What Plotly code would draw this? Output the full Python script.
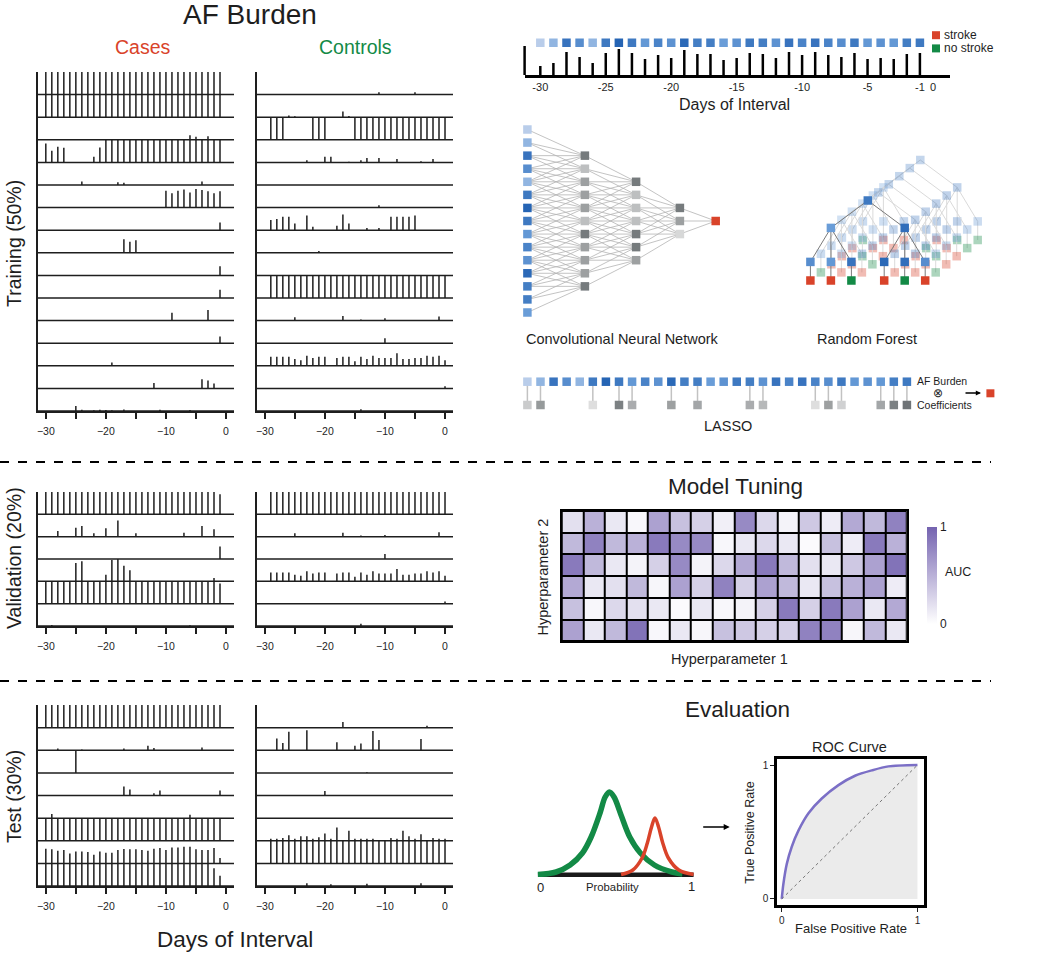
import plotly.graph_objects as go

W, H = 1050, 954
FONT = "Liberation Sans, Arial, Helvetica, sans-serif"
INK = "#1e1e1e"
RED = "#d9432a"
GREEN = "#138a46"

# ---------------- data ----------------
# AF burden per day, one list per patient (top row first)
case_days = list(range(-30, 0))
control_days = list(range(-29, 1))

train_cases = [
    [1, 1, 1, 1, 1, 1, 1, 1, 1, 1, 1, 1, 1, 1, 1, 1, 1, 1, 1, 1, 1, 1, 1, 1, 1, 1, 1, 1, 1, 1],
    [1, 1, 1, 1, 1, 1, 1, 1, 1, 1, 1, 1, 1, 1, 1, 1, 1, 1, 1, 1, 1, 1, 1, 1, 1, 1, 1, 1, 1, 1],
    [0, 0, 0, 0, 0, 0, 0, 0, 0, 0, 0, 0, 0, 0, 0, 0, 0, 0, 0, 0, 0, 0, 0, 0, 0, 0, 0, 0, 0, 0],
    [.84, .52, .69, .65, 0, 0, 0, 0, .25, .66, 1, 1, 1, 1, 1, 1, 1, 1, 1, 1, 1, 1, 1, 1, 1.2, 1.13, 1, 1.16, 1, 1],
    [0, 0, 0, 0, 0, 0, .15, 0, 0, 0, 0, 0, .12, .1, 0, 0, 0, 0, 0, 0, 0, 0, 0, 0, 0, 0, .15, 0, 0, 0],
    [0, 0, 0, 0, 0, 0, 0, 0, 0, 0, 0, 0, 0, 0, 0, 0, 0, 0, 0, 0, .75, .63, .75, .8, .67, .82, .78, .72, .63, .72],
    [0, 0, 0, 0, 0, 0, 0, 0, 0, 0, 0, 0, 0, 0, 0, 0, 0, 0, 0, 0, 0, 0, 0, 0, 0, 0, 0, 0, 0, .34],
    [0, 0, 0, 0, 0, 0, 0, 0, 0, 0, 0, 0, 0, .6, .49, .56, 0, 0, 0, 0, 0, 0, 0, 0, 0, 0, 0, 0, 0, 0],
    [0, 0, 0, 0, 0, 0, 0, 0, 0, 0, 0, 0, 0, 0, 0, 0, 0, 0, 0, 0, 0, 0, 0, 0, 0, 0, 0, 0, 0, .4],
    [0, 0, 0, 0, 0, 0, 0, 0, 0, 0, 0, 0, 0, 0, 0, 0, 0, 0, 0, 0, 0, 0, 0, 0, 0, 0, 0, 0, 0, .37],
    [0, 0, 0, 0, 0, 0, 0, 0, 0, 0, 0, 0, 0, 0, 0, 0, 0, 0, 0, 0, 0, .35, 0, 0, 0, 0, 0, .47, 0, 0],
    [0, 0, 0, 0, 0, 0, 0, 0, 0, 0, 0, 0, 0, 0, 0, 0, 0, 0, 0, 0, 0, 0, 0, 0, 0, 0, 0, 0, 0, .3],
    [0, 0, 0, 0, 0, 0, 0, 0, 0, 0, 0, .15, 0, 0, 0, 0, 0, 0, 0, 0, 0, 0, 0, 0, 0, 0, 0, 0, 0, 0],
    [0, 0, 0, 0, 0, 0, 0, 0, 0, 0, 0, 0, 0, 0, 0, 0, 0, 0, .24, 0, 0, 0, 0, 0, 0, 0, .41, .35, .22, 0],
    [0, 0, 0, 0, 0, .22, .05, 0, .03, .06, .04, .03, 0, .07, 0, 0, 0, 0, 0, .05, 0, 0, 0, 0, .04, 0, 0, 0, 0, 0],
]

train_controls = [
    [0, 0, 0, 0, 0, 0, 0, 0, 0, 0, 0, 0, 0, 0, 0, 0, 0, 0, .1, 0, 0, 0, 0, 0, .1, 0, 0, 0, 0, 0],
    [0, 0, 0, .08, .04, 0, 0, 0, 0, 0, 0, 0, .25, .05, 0, 0, 0, 0, 0, 0, 0, 0, 0, 0, 0, 0, 0, 0, 0, 0],
    [1, 1, 1, 0, 0, 0, 0, 1, 1, 1, 0, 0, 0, 0, 1, 1, 1, 1, 1, 1, 1, 1, 1, 1, 1, 1, 1, 1, 1, 1],
    [0, 0, 0, 0, 0, 0, .1, 0, 0, .25, .25, 0, 0, .03, 0, .1, .2, 0, .2, 0, 0, .15, 0, 0, 0, .05, 0, .15, 0, 0],
    [0, 0, 0, 0, 0, 0, 0, 0, 0, 0, 0, 0, 0, 0, 0, 0, 0, 0, 0, 0, 0, 0, 0, 0, 0, 0, 0, 0, 0, 0],
    [0, 0, 0, 0, 0, 0, 0, 0, 0, 0, 0, 0, 0, 0, 0, 0, 0, 0, .1, 0, 0, 0, 0, 0, 0, 0, 0, 0, 0, 0],
    [.45, .5, .6, .6, .3, 0, .65, .15, 0, 0, 0, .2, .7, .3, 0, 0, .1, 0, .1, 0, .6, .6, .6, .6, .65, 0, 0, 0, 0, 0],
    [0, 0, 0, 0, 0, 0, 0, 0, .08, 0, 0, 0, 0, 0, 0, 0, 0, 0, 0, 0, 0, 0, 0, 0, 0, 0, 0, 0, 0, 0],
    [0, 0, 0, 0, 0, 0, 0, 0, 0, 0, 0, 0, 0, 0, 0, 0, 0, 0, 0, 0, 0, 0, 0, 0, 0, 0, 0, 0, 0, 0],
    [1, 1, 1, 1, 1, 1, 1, 1, 1, 1, 1, 1, 1, 1, 1, 1, 1, 1, 1, 1, 1, 1, 1, 1, 1, 1, 1, 1, 1, 1],
    [0, 0, 0, 0, .15, 0, 0, 0, 0, 0, 0, 0, .2, 0, 0, .05, 0, 0, 0, .1, 0, 0, 0, 0, 0, 0, 0, 0, .18, 0],
    [0, 0, 0, 0, 0, 0, 0, 0, 0, 0, 0, 0, 0, 0, 0, 0, 0, 0, 0, .22, 0, 0, 0, 0, 0, 0, 0, 0, 0, 0],
    [.4, .4, .4, .4, .3, .25, .45, .35, .4, .4, 0, .35, .4, .4, .2, .4, .3, .45, .35, .35, .35, .55, .3, .3, .35, .35, .45, .4, .45, .25],
    [0, 0, 0, 0, 0, 0, 0, 0, 0, 0, 0, 0, 0, 0, 0, 0, 0, 0, 0, 0, 0, 0, 0, 0, 0, 0, 0, 0, 0, .1],
    [0, 0, 0, 0, 0, 0, 0, 0, 0, 0, 0, 0, 0, 0, 0, .08, 0, 0, 0, 0, 0, 0, 0, 0, 0, 0, 0, 0, 0, 0],
]

val_cases = [
    [1, 1, 1, 1, 1, 1, 1, 1, 1, 1, 1, 1, 1, 1, 1, 1, 1, 1, 1, 1, 1, 1, 1, 1, 1, 1, 1, 1, 1, .9],
    [0, 0, .25, 0, 0, .4, .48, 0, .15, 0, .38, 0, .72, 0, 0, .15, 0, 0, 0, 0, 0, 0, 0, .18, 0, 0, .48, 0, .33, 0],
    [0, 0, 0, 0, 0, 0, 0, 0, 0, 0, 0, 0, 0, 0, 0, 0, 0, 0, 0, 0, 0, 0, 0, 0, 0, 0, 0, 0, 0, .56],
    [0, 0, 0, 0, 0, .82, .9, 0, 0, 0, .3, .95, 1.0, .7, .5, 0, 0, 0, 0, 0, 0, 0, 0, 0, 0, 0, 0, 0, .15, 0],
    [1, 1, 1, 1, 1, 1, 1, 1, 1, 1, 1, 1, 1, 1, 1, 1, 1, 1, 1, 1, 1, 1, 1, 1, 1, 1, 1, 1, 1, .9],
    [0, .05, 0, 0, 0, 0, 0, 0, 0, 0, 0, 0, 0, 0, 0, 0, 0, 0, 0, 0, 0, 0, 0, 0, .03, 0, 0, 0, 0, 0],
]

val_controls = [
    [1, 1, 1, 1, 1, 1, 1, 1, 1, 1, 1, 1, 1, 1, 1, 1, 1, 1, 1, 1, 1, 1, 1, 1, 1, 1, 1, 1, 1, 1],
    [0, 0, 0, 0, .15, 0, 0, 0, 0, 0, 0, 0, .18, 0, 0, .05, 0, 0, 0, .08, 0, 0, 0, 0, 0, 0, 0, 0, .2, 0],
    [0, 0, 0, 0, 0, 0, 0, 0, 0, 0, 0, 0, 0, 0, 0, 0, 0, 0, 0, .22, 0, 0, 0, 0, 0, 0, 0, 0, 0, 0],
    [.4, .4, .4, .4, .3, .25, .45, .35, .4, .4, 0, .35, .4, .4, .2, .4, .3, .45, .35, .35, .35, .55, .3, .3, .35, .35, .45, .4, .45, .25],
    [0, 0, 0, 0, 0, 0, 0, 0, 0, 0, 0, 0, 0, 0, 0, 0, 0, 0, 0, 0, 0, 0, 0, 0, 0, 0, 0, 0, 0, .1],
    [0, 0, 0, 0, 0, 0, 0, 0, 0, 0, 0, 0, 0, 0, 0, .1, 0, 0, 0, 0, 0, 0, 0, 0, 0, 0, 0, 0, 0, 0],
]

test_cases = [
    [1, 1, 1, 1, 1, 1, 1, 1, 1, 1, 1, 1, 1, 1, 1, 1, 1, 1, 1, 1, 1, 1, 1, 1, 1, 1, 1, 1, 1, 1],
    [0, 0, .08, 0, 0, 0, .03, 0, 0, 0, 0, 0, 0, .08, 0, 0, 0, .2, .1, 0, 0, 0, 0, 0, 0, 0, .12, 0, 0, 0],
    [0, 0, 0, 0, 0, 1.0, 0, 0, 0, 0, 0, 0, 0, 0, 0, 0, 0, 0, 0, 0, 0, 0, 0, 0, 0, 0, 0, 0, 0, 0],
    [0, 0, 0, 0, 0, 0, 0, 0, 0, 0, 0, 0, 0, .4, .27, 0, 0, 0, .1, .22, 0, 0, 0, 0, 0, 0, 0, 0, 0, .22],
    [0, 0, 0, 0, 0, 0, 0, 0, 0, 0, 0, 0, 0, 0, 0, 0, 0, 0, 0, 0, 0, 0, 0, 0, 0, 0, 0, 0, 0, 0],
    [1, 1.18, 1, 1, 1, 1, 1, 1, 1, 1, 1, 1, 1, 1, 1, 1, 1, 1, 1, 1, 1, 1, 1, 1, 1.15, 1, 1, 1, 1, 1],
    [.65, .62, .56, .59, .44, .53, .53, .5, .38, .53, .47, .47, .59, .63, .62, .62, .59, .56, .65, .68,
     .59, .7, .7, .74, .74, .62, .59, .59, .68, .24],
    [1, 1, 1, 1, 1, 1, 1, 1, 1, 1, 1, 1, 1, 1, 1, 1, 1, 1, 1, 1, 1, 1, 1, 1, 1, 1, 1, 1, .78, .45],
]

test_controls = [
    [0, 0, 0, 0, 0, 0, 0, 0, 0, 0, 0, 0, .25, 0, 0, 0, 0, 0, 0, 0, 0, 0, 0, 0, 0, 0, .08, 0, 0, 0],
    [0, .52, .32, .82, 0, 0, .88, 0, 0, 0, 0, .35, 0, 0, .2, .3, 0, .85, .45, 0, 0, 0, 0, 0, 0, .5, 0, 0, 0, 0],
    [0, 0, 0, 0, 0, 0, 0, 0, 0, 0, 0, 0, 0, 0, 0, 0, .03, 0, 0, 0, 0, 0, 0, 0, 0, 0, 0, 0, 0, 0],
    [0, 0, 0, 0, 0, 0, 0, 0, 0, .2, 0, 0, 0, 0, 0, 0, 0, 0, 0, 0, 0, 0, 0, 0, 0, 0, 0, 0, 0, 0],
    [0, 0, 0, 0, 0, 0, 0, 0, 0, 0, 0, 0, 0, 0, 0, 0, 0, 0, 0, 0, 0, 0, 0, 0, 0, 0, 0, 0, 0, 0],
    [0, 0, 0, 0, 0, 0, 0, 0, 0, 0, 0, 0, 0, 0, 0, 0, 0, 0, 0, 0, 0, 0, 0, 0, 0, 0, 0, 0, 0, 0],
    [1.09, 1.09, 1.12, 1.24, 1.09, 1.2, 1.2, 1.09, 1.15, 1.32, 1.09, 1.59, 1.0, 1.44, 1.09, 1.09, 1.09, 1.09, 1.0, 1.0,
     1.12, 1.09, 1.44, 1.2, 1.09, 1.29, 1.0, 1.12, 1.09, 1.09],
    [0, 0, 0, 0, 0, 0, .12, 0, 0, 0, .08, 0, 0, 0, 0, 0, .1, 0, 0, 0, 0, 0, 0, 0, 0, .12, 0, 0, 0, 0],
]

panel_ticks = [-30, -25, -20, -15, -10, -5, 0]
panel_ticktext = ["\u221230", "", "\u221220", "", "\u221210", "", "0"]

# example patient shown in the top strip (days -30 .. -1)
strip_burden = [9, 12, 23, 18, 12, 22, 26, 22, 16, 20, 17, 25, 21, 21, 15,
                17, 22, 21, 17, 23, 20, 23, 20, 18, 22, 16, 17, 16, 21, 22]
strip_ticks = [-30, -25, -20, -15, -10, -5, -1, 0]
strip_ticktext = ["-30", "-25", "-20", "-15", "-10", "-5", "-1", "0"]

# CNN: layer sizes, layer depth (px) and hidden unit shading
cnn_layer_sizes = [15, 11, 7, 3, 1]
cnn_layer_x = [527.4, 584.9, 636.1, 679.9, 715.7]
cnn_hidden_shade = [
    [.85, .3, .55, .55, .55, .3, .85, .55, .55, .55, .85],
    [.85, .3, .3, .3, .85, .85, .55],
    [.85, .55, .1],
]

# Random forest: leaf class per tree (front tree first), internal node shades of front tree
rf_leaf_class = [
    ["stroke", "stroke", "no stroke", "stroke", "no stroke", "stroke"],
    ["no stroke", "stroke", "stroke", "stroke", "stroke", "no stroke"],
    ["stroke", "stroke", "no stroke", "stroke", "stroke", "stroke"],
    ["stroke", "no stroke", "stroke", "stroke", "no stroke", "stroke"],
    ["stroke", "stroke", "stroke", "no stroke", "stroke", "no stroke"],
    ["no stroke", "stroke", "stroke", "stroke", "no stroke", "no stroke"],
]
rf_node_shade = [22, 15, 24, 18, 16, 23, 25, 24, 18]  # root, 2 splits, 6 sub-splits
rf_leaf_slots = [0, 1, 2, 3.6, 4.6, 5.6]

# LASSO: non-zero coefficient days and their magnitude
lasso_days = [-30, -29, -25, -23, -22, -19, -17, -13, -12, -8, -7, -6, -3, -2, -1]
lasso_coef = [.2, .6, .05, .8, .45, .55, .5, .45, .35, .05, .55, .15, .5, .8, .9]

# Model tuning grid (rows: hyperparameter 2 top->bottom, cols: hyperparameter 1)
tuning_auc = [
    [.2, .5, .15, .05, .6, .4, .3, .1, .75, .25, .08, .35, .12, .55, .45, .8],
    [.45, .8, .45, .5, .85, .75, .75, .05, .15, .25, .15, .03, .4, .12, .85, .5],
    [.85, .45, .15, .08, .3, .75, .08, .25, .55, .85, .45, .2, .15, .35, .6, .9],
    [.55, .15, .2, .45, .06, .6, .3, .8, .3, .6, .45, .15, .4, .5, .6, .12],
    [.4, .05, .25, .2, .15, .03, .15, .05, .08, .3, .85, .3, .85, .6, .15, .55],
    [.6, .15, .45, .9, .05, .15, .06, .4, .35, .3, .3, .8, .8, .06, .45, .15],
]

# predicted probability densities
nostroke_p = [0, .117, .207, .286, .342, .399, .432, .459, .489, .534, .59, .658, .748, .86, .928]
nostroke_d = [.5, 3, 10, 22, 38, 62, 78, 83, 78, 60, 38, 22, 10, 3, 1]
stroke_p = [.534, .61, .669, .703, .73, .752, .775, .802, .838, .905, 1.0]
stroke_d = [.5, 5, 17, 32, 48, 57, 48, 32, 17, 5, .5]

# ROC curve
roc_fpr = [0, .012, .037, .074, .123, .197, .295, .418, .54, .663, .786, 1]
roc_tpr = [0, .11, .26, .39, .51, .64, .75, .85, .92, .96, .99, 1]

BLUES = [[0, "#b9cdea"], [0.35, "#6a9dd8"], [1, "#2564b4"]]
GRAYS = [[0, "#e4e4e4"], [1, "#62686b"]]
PURPLES = [[0, "#ffffff"], [1, "#7463b0"]]

# ---------------- figure ----------------
fig = go.Figure()
axes = {}
shapes = []
annotations = []


def ax_names(n):
    s = "" if n == 1 else str(n)
    return "x" + s, "y" + s, "xaxis" + s, "yaxis" + s


def add_axes(n, box, xrange, yrange, xextra=None, yextra=None):
    x0, y0, x1, y1 = box
    xn, yn, xk, yk = ax_names(n)
    base = dict(showgrid=False, zeroline=False, showline=False, showticklabels=False,
                ticks="", fixedrange=True)
    xa = dict(base, domain=[x0 / W, x1 / W], range=xrange, anchor=yn)
    ya = dict(base, domain=[1 - y1 / H, 1 - y0 / H], range=yrange, anchor=xn)
    xa.update(xextra or {})
    ya.update(yextra or {})
    axes[xk] = xa
    axes[yk] = ya
    return xn, yn


def label(text, x, y, size, color=INK, angle=0, xanchor="center"):
    annotations.append(dict(text=text, x=x / W, y=1 - y / H, xref="paper", yref="paper",
                            showarrow=False, textangle=angle, xanchor=xanchor, yanchor="middle",
                            borderpad=0, font=dict(size=size, color=color, family=FONT)))


def af_panel(n, rows, days, box):
    nrows = len(rows)
    xn, yn = add_axes(
        n, box, [-31.3, 1.33], [0, nrows],
        xextra=dict(showline=True, linewidth=1.5, linecolor=INK, ticks="outside", ticklen=6,
                    tickwidth=1.5, tickcolor=INK, tickvals=panel_ticks, ticktext=panel_ticktext,
                    showticklabels=True, tickfont=dict(size=10.5, color=INK), ticklabelstandoff=4),
        yextra=dict(showline=True, linewidth=1.5, linecolor=INK))
    xs, ys = [], []
    for r, row in enumerate(rows):
        base = nrows - 1 - r
        shapes.append(dict(type="line", xref=xn + " domain", yref=yn, x0=0, x1=1, y0=base, y1=base,
                           line=dict(color=INK, width=1.5)))
        for d, h in zip(days, row):
            if h:
                xs += [d, d, None]
                ys += [base, base + h, None]
    fig.add_trace(go.Scatter(x=xs, y=ys, mode="lines", line=dict(color=INK, width=1.5),
                             xaxis=xn, yaxis=yn, hoverinfo="skip"))


af_panel(1, train_cases, case_days, (38, 72, 234, 411))
af_panel(2, train_controls, control_days, (257, 72, 453, 411))
af_panel(3, val_cases, case_days, (38, 492, 234, 626))
af_panel(4, val_controls, control_days, (257, 492, 453, 626))
af_panel(5, test_cases, case_days, (38, 705, 234, 886))
af_panel(6, test_controls, control_days, (257, 705, 453, 886))

# ---- top strip: one patient's burden ----
xn, yn = add_axes(
    7, (524.6, 36, 949.7, 75), [-31.2, 1.276], [0, 39],
    xextra=dict(showline=True, linewidth=2.5, linecolor="black", tickvals=strip_ticks,
                ticktext=strip_ticktext, showticklabels=True, tickfont=dict(size=11, color=INK)))
shapes.append(dict(type="line", xref=xn + " domain", yref=yn, x0=0, x1=0, y0=0, y1=29,
                   line=dict(color="black", width=2.5)))
sx, sy = [], []
for d, h in zip(case_days, strip_burden):
    sx += [d, d, None]
    sy += [0, h, None]
fig.add_trace(go.Scatter(x=sx, y=sy, mode="lines", line=dict(color="black", width=2.5),
                         xaxis=xn, yaxis=yn, hoverinfo="skip"))
fig.add_trace(go.Scatter(x=case_days, y=[32.3] * len(case_days), mode="markers",
                         marker=dict(symbol="square", size=8.5, color=strip_burden, colorscale=BLUES,
                                     cmin=9, cmax=26, line=dict(width=0)),
                         xaxis=xn, yaxis=yn, hoverinfo="skip"))
label("Days of Interval", 734, 105, 16)

# ---- CNN ----
xn, yn = add_axes(8, (510, 120, 730, 320), [510, 730], [320, 120])
node_y = []
for n_units in cnn_layer_sizes:
    node_y.append([221 + (i - (n_units - 1) / 2) * 13.07 for i in range(n_units)])
ex, ey = [], []
for L in range(len(cnn_layer_sizes) - 1):
    k = cnn_layer_sizes[L] - cnn_layer_sizes[L + 1] + 1
    for j in range(cnn_layer_sizes[L + 1]):
        for i in range(j, j + k):
            ex += [cnn_layer_x[L], cnn_layer_x[L + 1], None]
            ey += [node_y[L][i], node_y[L + 1][j], None]
fig.add_trace(go.Scatter(x=ex, y=ey, mode="lines", line=dict(color="#b4b4b4", width=0.8),
                         xaxis=xn, yaxis=yn, hoverinfo="skip"))
fig.add_trace(go.Scatter(x=[cnn_layer_x[0]] * 15, y=node_y[0], mode="markers",
                         marker=dict(symbol="square", size=8.5, color=strip_burden[:15], colorscale=BLUES,
                                     cmin=9, cmax=26), xaxis=xn, yaxis=yn, hoverinfo="skip"))
for L, shade in enumerate(cnn_hidden_shade, start=1):
    fig.add_trace(go.Scatter(x=[cnn_layer_x[L]] * len(shade), y=node_y[L], mode="markers",
                             marker=dict(symbol="square", size=8.5, color=shade, colorscale=GRAYS,
                                         cmin=0, cmax=1), xaxis=xn, yaxis=yn, hoverinfo="skip"))
fig.add_trace(go.Scatter(x=[cnn_layer_x[4]], y=node_y[4], mode="markers",
                         marker=dict(symbol="square", size=8.5, color=RED), xaxis=xn, yaxis=yn,
                         hoverinfo="skip"))
label("Convolutional Neural Network", 622.8, 339, 14.5)

# ---- Random forest ----
xn, yn = add_axes(9, (790, 140, 990, 300), [790, 990], [300, 140])
for k in reversed(range(len(rf_leaf_class))):
    ox, oy = 810.4 + 10.5 * k, 200.5 - 8.1 * k
    gx = [ox + 20.5 * s for s in rf_leaf_slots]
    cx = [sum(gx[0:3]) / 3, sum(gx[3:6]) / 3]
    rx = sum(cx) / 2
    ry, cy, gy, ly = oy, oy + 27.4, oy + 61.4, oy + 80
    ex, ey = [], []
    for c in cx:
        ex += [rx, c, None]
        ey += [ry, cy, None]
    for g_i, g in enumerate(gx):
        ex += [cx[g_i // 3], g, None, g, g, None]
        ey += [cy, gy, None, gy, ly, None]
    front = k == 0
    fig.add_trace(go.Scatter(x=ex, y=ey, mode="lines",
                             line=dict(color="#7a7a7a" if front else "#dadada", width=1),
                             xaxis=xn, yaxis=yn, hoverinfo="skip"))
    fig.add_trace(go.Scatter(x=[rx] + cx + gx, y=[ry, cy, cy] + [gy] * 6, mode="markers",
                             opacity=1 if front else 0.3,
                             marker=dict(symbol="square", size=8.5, color=rf_node_shade,
                                         colorscale=BLUES, cmin=9, cmax=26),
                             xaxis=xn, yaxis=yn, hoverinfo="skip"))
    fig.add_trace(go.Scatter(x=gx, y=[ly] * 6, mode="markers", opacity=1 if front else 0.35,
                             marker=dict(symbol="square", size=8.5,
                                         color=[RED if c == "stroke" else GREEN for c in rf_leaf_class[k]]),
                             xaxis=xn, yaxis=yn, hoverinfo="skip"))
label("Random Forest", 867.2, 339, 14.5)

# ---- LASSO ----
xn, yn = add_axes(10, (515, 372, 912, 414), [-30.947, -0.61], [-0.386, 1.416])
lx, ly = [], []
for d in lasso_days:
    lx += [d, d, None]
    ly += [0, 1, None]
fig.add_trace(go.Scatter(x=lx, y=ly, mode="lines", line=dict(color="#c2c2c2", width=1.5),
                         xaxis=xn, yaxis=yn, hoverinfo="skip"))
fig.add_trace(go.Scatter(x=case_days, y=[1] * len(case_days), mode="markers",
                         marker=dict(symbol="square", size=8.5, color=strip_burden, colorscale=BLUES,
                                     cmin=9, cmax=26), xaxis=xn, yaxis=yn, hoverinfo="skip"))
fig.add_trace(go.Scatter(x=lasso_days, y=[0] * len(lasso_days), mode="markers",
                         marker=dict(symbol="square", size=8.5, color=lasso_coef, colorscale=GRAYS,
                                     cmin=0, cmax=1), xaxis=xn, yaxis=yn, hoverinfo="skip"))
label("AF Burden", 916.3, 381, 10.5, xanchor="left")
label("\u2297", 938.4, 392.5, 12)
label("Coefficients", 916.3, 404.5, 10.5, xanchor="left")
annotations.append(dict(x=981 / W, y=1 - 393 / H, xref="paper", yref="paper", ax=-17, ay=0, text="",
                        showarrow=True, arrowhead=2, arrowsize=0.8, arrowwidth=1.3, arrowcolor="black"))
shapes.append(dict(type="rect", xref="paper", yref="paper", x0=986.4 / W, x1=994.4 / W,
                   y0=1 - 397.3 / H, y1=1 - 389.3 / H, fillcolor=RED, line=dict(width=0)))
label("LASSO", 728, 425.7, 14.5)

# ---- Model tuning heatmap ----
xn, yn = add_axes(11, (561.7, 511, 906.9, 641.3), [-0.5, 15.5], [5.5, -0.5],
                  xextra=dict(showline=True, mirror=True, linewidth=2, linecolor="black"),
                  yextra=dict(showline=True, mirror=True, linewidth=2, linecolor="black"))
shapes.append(dict(type="rect", xref=xn, yref=yn, x0=-0.5, x1=15.5, y0=-0.5, y1=5.5,
                   fillcolor="black", line=dict(width=0), layer="below"))
fig.add_trace(go.Heatmap(
    z=tuning_auc, x=list(range(16)), y=list(range(6)), xaxis=xn, yaxis=yn, zmin=0, zmax=1,
    colorscale=PURPLES, xgap=2, ygap=2, hoverinfo="skip",
    colorbar=dict(x=926.9 / W, xanchor="left", y=1 - 575.3 / H, yanchor="middle", len=97.3 / H,
                  lenmode="fraction", thickness=9.5, xpad=0, ypad=0, tickvals=[0, 1],
                  ticktext=["0", "1"], tickfont=dict(size=12, color=INK, family=FONT),
                  outlinewidth=0, ticks="")))
label("AUC", 957.7, 571.7, 12.5)
label("Model Tuning", 735.5, 487, 22.5)
label("Hyperparameter 2", 542.8, 576.7, 14.5, angle=-90)
label("Hyperparameter 1", 729.7, 659, 14.5)

# ---- Evaluation: probability densities ----
xn, yn = add_axes(12, (534.8, 787, 696.7, 877), [-0.02, 1.02], [-2, 88])
shapes.append(dict(type="line", xref=xn, yref=yn, x0=0, x1=1, y0=0, y1=0,
                   line=dict(color="#1a1a1a", width=5), layer="below"))
fig.add_trace(go.Scatter(x=nostroke_p, y=nostroke_d, mode="lines",
                         line=dict(color=GREEN, width=5.5, shape="spline", smoothing=1),
                         xaxis=xn, yaxis=yn, hoverinfo="skip"))
fig.add_trace(go.Scatter(x=stroke_p, y=stroke_d, mode="lines",
                         line=dict(color=RED, width=3.5, shape="spline", smoothing=1),
                         xaxis=xn, yaxis=yn, hoverinfo="skip"))
label("0", 540.3, 887, 13)
label("Probability", 612.9, 887, 11.3)
label("1", 691.2, 886, 13)
annotations.append(dict(x=729.7 / W, y=1 - 827 / H, xref="paper", yref="paper", ax=-28, ay=0, text="",
                        showarrow=True, arrowhead=2, arrowsize=0.8, arrowwidth=1.5, arrowcolor="black"))

# ---- ROC ----
xn, yn = add_axes(
    13, (777.1, 759, 923.7, 905), [-0.034, 1.046], [-0.045, 1.045],
    xextra=dict(showline=True, mirror=True, linewidth=2.5, linecolor="black", ticks="outside",
                ticklen=4, tickcolor=INK, tickvals=[0, 1], showticklabels=True,
                tickfont=dict(size=10, color=INK)),
    yextra=dict(showline=True, mirror=True, linewidth=2.5, linecolor="black", ticks="outside",
                ticklen=4, tickcolor=INK, tickvals=[0, 1], showticklabels=True,
                tickfont=dict(size=10, color=INK)))
fig.add_trace(go.Scatter(x=roc_fpr, y=roc_tpr, mode="lines", fill="tozeroy", fillcolor="#ebebeb",
                         line=dict(color="#7b6fc6", width=2.5, shape="spline", smoothing=0.8),
                         xaxis=xn, yaxis=yn, hoverinfo="skip"))
fig.add_trace(go.Scatter(x=[0, 1], y=[0, 1], mode="lines", line=dict(color="#777777", width=1, dash="dot"),
                         xaxis=xn, yaxis=yn, hoverinfo="skip"))
label("ROC Curve", 849, 747, 14.5)
label("True Positive Rate", 749.7, 833, 12.5, angle=-90)
label("False Positive Rate", 850.7, 928, 13)
label("Evaluation", 737.5, 709, 22.5)

# ---- titles, legend, separators ----
label("AF Burden", 250, 14, 28)
label("Cases", 143, 47, 19.5, color=RED)
label("Controls", 355, 47, 19.5, color=GREEN)
label("Training (50%)", 14, 244, 19.5, angle=-90)
label("Validation (20%)", 14, 558, 19.5, angle=-90)
label("Test (30%)", 14, 797, 19.5, angle=-90)
label("Days of Interval", 235, 939, 22.5)

for cy, col, txt in [(35.2, RED, "stroke"), (48.4, GREEN, "no stroke")]:
    shapes.append(dict(type="rect", xref="paper", yref="paper", x0=932 / W, x1=940 / W,
                       y0=1 - (cy + 4) / H, y1=1 - (cy - 4) / H, fillcolor=col, line=dict(width=0)))
    label(txt, 942.6, cy, 12, xanchor="left")

for yy in (462, 681):
    shapes.append(dict(type="line", xref="paper", yref="paper", x0=0, x1=991 / W,
                       y0=1 - yy / H, y1=1 - yy / H, line=dict(color="black", width=2, dash="dash")))

fig.update_layout(
    width=W, height=H, margin=dict(l=0, r=0, t=0, b=0),
    paper_bgcolor="white", plot_bgcolor="rgba(0,0,0,0)",
    showlegend=False, font=dict(family=FONT, color=INK),
    shapes=shapes, annotations=annotations, **axes)

# drop the default page margin so the figure sits at the window's top-left corner
fig.write_html("out.html", config={"displayModeBar": False},
               post_script="document.body.style.margin='0';")
